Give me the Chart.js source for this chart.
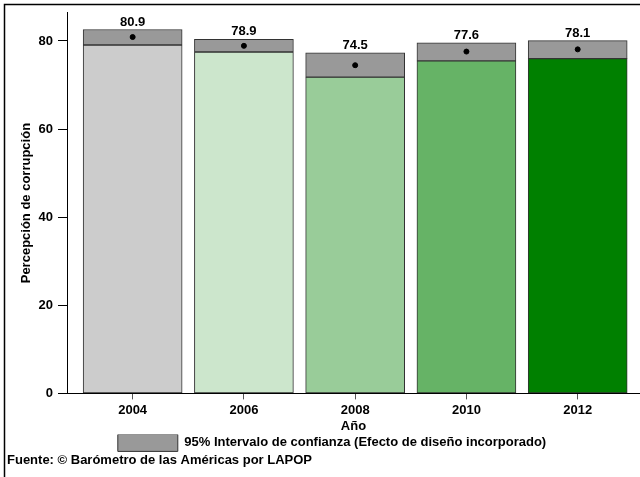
<!DOCTYPE html>
<html>
<head>
<meta charset="utf-8">
<script src="https://cdn.jsdelivr.net/npm/chart.js@4"></script>
<style>
  body { margin: 0; background: #fff; overflow: hidden; }
  canvas { display: block; }
</style>
</head>
<body>
<canvas id="chart" width="645" height="477"></canvas>
<script>
// datos
const years = [2004, 2006, 2008, 2010, 2012];
const means = [80.9, 78.9, 74.5, 77.6, 78.1];
const lower = [79.1, 77.5, 71.8, 75.5, 76.0];
const upper = [82.6, 80.4, 77.3, 79.6, 80.1];
const yTicks = [0, 20, 40, 60, 80];
const barColors = ["#cccccc", "#cce6cc", "#99cc99", "#66b366", "#008000"];

Chart.defaults.font.family = "'Liberation Sans', Arial, sans-serif";
Chart.defaults.font.weight = "bold";
Chart.defaults.font.size = 13;
Chart.defaults.color = "#000";

// marco, etiquetas de valores, posición de la leyenda
const extras = {
  id: "extras",
  afterLayout(chart) {
    chart.legend.left += 6;
    chart.legend.right += 6;
  },
  afterDatasetsDraw(chart) {
    const ctx = chart.ctx;
    const meta = chart.getDatasetMeta(1);
    ctx.save();
    ctx.font = "bold 13px 'Liberation Sans', Arial, sans-serif";
    ctx.fillStyle = "#000";
    ctx.textAlign = "center";
    ctx.textBaseline = "alphabetic";
    meta.data.forEach((el, i) => {
      ctx.fillText(means[i].toFixed(1), el.x, el.y - 4);
    });
    ctx.restore();
  },
  afterDraw(chart) {
    const ctx = chart.ctx;
    ctx.save();
    ctx.strokeStyle = "#000";
    ctx.lineWidth = 1.5;
    ctx.beginPath();
    ctx.moveTo(4.5, 700);
    ctx.lineTo(4.5, 4.5);
    ctx.lineTo(700, 4.5);
    ctx.stroke();
    ctx.restore();
  }
};

new Chart(document.getElementById("chart"), {
  type: "bar",
  data: {
    datasets: [
      {
        label: "media",
        data: years.map((y, i) => ({ x: y, y: [0, lower[i]] })),
        backgroundColor: barColors,
        borderColor: "#333",
        borderWidth: 1,
        borderSkipped: false,
        barThickness: 99,
        grouped: false,
        order: 2
      },
      {
        label: "95% Intervalo de confianza (Efecto de diseño incorporado)",
        data: years.map((y, i) => ({ x: y, y: [lower[i], upper[i]] })),
        backgroundColor: "#999999",
        borderColor: "#333",
        borderWidth: 1,
        borderSkipped: false,
        barThickness: 99,
        grouped: false,
        order: 1
      },
      {
        type: "scatter",
        label: "punto",
        data: years.map((y, i) => ({ x: y, y: means[i] })),
        backgroundColor: "#000",
        borderColor: "#000",
        pointRadius: 2.5,
        order: 0
      }
    ]
  },
  options: {
    responsive: false,
    animation: false,
    layout: { padding: { top: 11, right: 0, left: 7, bottom: 4 } },
    plugins: {
      tooltip: { enabled: false },
      legend: {
        position: "bottom",
        labels: {
          filter: item => item.datasetIndex === 1,
          boxWidth: 60,
          boxHeight: 17,
          padding: 0,
          font: { size: 13, weight: "bold" },
          color: "#000"
        }
      },
      title: {
        display: true,
        position: "bottom",
        align: "start",
        text: "Fuente: © Barómetro de las Américas por LAPOP",
        font: { size: 13, weight: "bold" },
        color: "#000",
        padding: { top: -9, bottom: 5 }
      }
    },
    scales: {
      x: {
        type: "linear",
        offset: false,
        min: 2002.82,
        max: 2013.12,
        afterBuildTicks: s => { s.ticks = years.map(v => ({ value: v })); },
        afterFit: s => { s.height = 41; },
        ticks: { font: { size: 13, weight: "bold" }, padding: 3, callback: v => String(v) },
        grid: { offset: false, drawOnChartArea: false, tickLength: 6, color: "#555" },
        border: { color: "#000", width: 1 },
        title: { display: true, text: "Año", font: { size: 13, weight: "bold" }, padding: { top: 0, bottom: 0 } }
      },
      y: {
        min: 0,
        max: 86.4,
        afterBuildTicks: s => { s.ticks = yTicks.map(v => ({ value: v })); },
        afterFit: s => { s.width = 60; },
        ticks: { font: { size: 13, weight: "bold" }, padding: 5 },
        grid: { drawOnChartArea: false, tickLength: 9, color: "#000" },
        border: { color: "#000", width: 1 },
        title: { display: true, text: "Percepción de corrupción", font: { size: 13, weight: "bold" }, padding: { top: 12, bottom: 0 } }
      }
    }
  },
  plugins: [extras]
});
</script>
</body>
</html>
